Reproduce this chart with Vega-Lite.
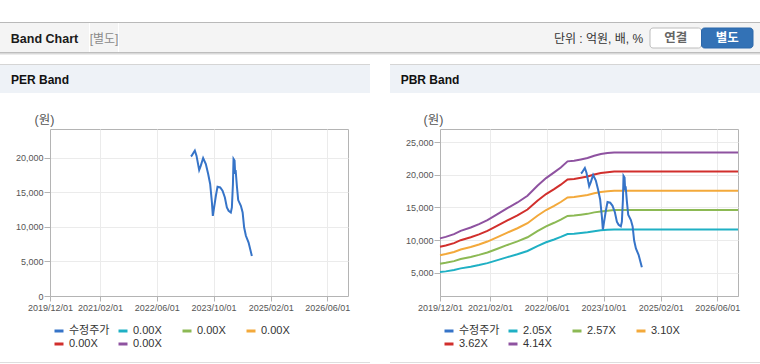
{
 "$schema": "https://vega.github.io/schema/vega-lite/v6.json",
 "padding": {"left": 0, "top": 22, "right": 0, "bottom": 0},
 "background": "#ffffff",
 "spacing": 9,
 "config": {
  "font": "'Liberation Sans', 'Noto Sans CJK KR', sans-serif",
  "view": {"stroke": null},
  "axis": {
   "labelFont": "'Liberation Sans', 'Noto Sans CJK KR', sans-serif",
   "labelFontSize": 9, "labelColor": "#555555",
   "domainColor": "#b4b4b4", "tickColor": "#b4b4b4", "gridColor": "#ebebeb",
   "titleFont": "'Liberation Sans', 'Noto Sans CJK KR', sans-serif",
   "titleFontWeight": "normal", "titleColor": "#555555", "titleFontSize": 12.5
  },
  "legend": {
   "labelFont": "'Liberation Sans', 'Noto Sans CJK KR', sans-serif",
   "labelFontSize": 11, "labelColor": "#333333"
  }
 },
 "datasets": {
  "price": [
   {"d": "2023-03-21", "s": "수정주가", "v": 20240},
   {"d": "2023-03-29", "s": "수정주가", "v": 20340},
   {"d": "2023-04-24", "s": "수정주가", "v": 21070},
   {"d": "2023-05-08", "s": "수정주가", "v": 20340},
   {"d": "2023-05-31", "s": "수정주가", "v": 18260},
   {"d": "2023-06-14", "s": "수정주가", "v": 18890},
   {"d": "2023-07-04", "s": "수정주가", "v": 20000},
   {"d": "2023-07-27", "s": "수정주가", "v": 19130},
   {"d": "2023-08-16", "s": "수정주가", "v": 17680},
   {"d": "2023-09-02", "s": "수정주가", "v": 16230},
   {"d": "2023-09-17", "s": "수정주가", "v": 13560},
   {"d": "2023-09-25", "s": "수정주가", "v": 11620},
   {"d": "2023-10-06", "s": "수정주가", "v": 12830},
   {"d": "2023-10-21", "s": "수정주가", "v": 14530},
   {"d": "2023-11-04", "s": "수정주가", "v": 15840},
   {"d": "2023-11-27", "s": "수정주가", "v": 15730},
   {"d": "2023-12-17", "s": "수정주가", "v": 15250},
   {"d": "2024-01-06", "s": "수정주가", "v": 14280},
   {"d": "2024-01-23", "s": "수정주가", "v": 12830},
   {"d": "2024-02-07", "s": "수정주가", "v": 12350},
   {"d": "2024-02-26", "s": "수정주가", "v": 12100},
   {"d": "2024-03-06", "s": "수정주가", "v": 12830},
   {"d": "2024-03-15", "s": "수정주가", "v": 16230},
   {"d": "2024-03-20", "s": "수정주가", "v": 19860},
   {"d": "2024-03-29", "s": "수정주가", "v": 19610},
   {"d": "2024-04-03", "s": "수정주가", "v": 17680},
   {"d": "2024-04-07", "s": "수정주가", "v": 18260},
   {"d": "2024-04-18", "s": "수정주가", "v": 15900},
   {"d": "2024-04-29", "s": "수정주가", "v": 13900},
   {"d": "2024-05-22", "s": "수정주가", "v": 13080},
   {"d": "2024-06-06", "s": "수정주가", "v": 12100},
   {"d": "2024-06-19", "s": "수정주가", "v": 9920},
   {"d": "2024-07-04", "s": "수정주가", "v": 8720},
   {"d": "2024-07-27", "s": "수정주가", "v": 7740},
   {"d": "2024-08-24", "s": "수정주가", "v": 5810}
  ],
  "band": [
   {"d": "2019-12-01", "s": "2.05X", "v": 5080}, {"d": "2020-01-19", "s": "2.05X", "v": 5190}, {"d": "2020-03-30", "s": "2.05X", "v": 5400}, {"d": "2020-05-26", "s": "2.05X", "v": 5650}, {"d": "2020-08-20", "s": "2.05X", "v": 5900}, {"d": "2020-10-30", "s": "2.05X", "v": 6160}, {"d": "2021-01-10", "s": "2.05X", "v": 6460}, {"d": "2021-04-06", "s": "2.05X", "v": 6920}, {"d": "2021-06-30", "s": "2.05X", "v": 7380}, {"d": "2021-09-24", "s": "2.05X", "v": 7810}, {"d": "2021-12-19", "s": "2.05X", "v": 8320}, {"d": "2022-03-14", "s": "2.05X", "v": 9080}, {"d": "2022-05-27", "s": "2.05X", "v": 9660}, {"d": "2022-08-04", "s": "2.05X", "v": 10090}, {"d": "2022-09-30", "s": "2.05X", "v": 10480}, {"d": "2022-11-27", "s": "2.05X", "v": 10930}, {"d": "2023-01-22", "s": "2.05X", "v": 10980}, {"d": "2023-03-21", "s": "2.05X", "v": 11080}, {"d": "2023-05-17", "s": "2.05X", "v": 11190}, {"d": "2023-07-13", "s": "2.05X", "v": 11360}, {"d": "2023-09-08", "s": "2.05X", "v": 11490}, {"d": "2023-11-04", "s": "2.05X", "v": 11570}, {"d": "2023-12-31", "s": "2.05X", "v": 11620}, {"d": "2026-11-25", "s": "2.05X", "v": 11620},
   {"d": "2019-12-01", "s": "2.57X", "v": 6370}, {"d": "2020-01-19", "s": "2.57X", "v": 6510}, {"d": "2020-03-30", "s": "2.57X", "v": 6760}, {"d": "2020-05-26", "s": "2.57X", "v": 7080}, {"d": "2020-08-20", "s": "2.57X", "v": 7400}, {"d": "2020-10-30", "s": "2.57X", "v": 7720}, {"d": "2021-01-10", "s": "2.57X", "v": 8100}, {"d": "2021-04-06", "s": "2.57X", "v": 8670}, {"d": "2021-06-30", "s": "2.57X", "v": 9250}, {"d": "2021-09-24", "s": "2.57X", "v": 9790}, {"d": "2021-12-19", "s": "2.57X", "v": 10430}, {"d": "2022-03-14", "s": "2.57X", "v": 11380}, {"d": "2022-05-27", "s": "2.57X", "v": 12110}, {"d": "2022-08-04", "s": "2.57X", "v": 12650}, {"d": "2022-09-30", "s": "2.57X", "v": 13130}, {"d": "2022-11-27", "s": "2.57X", "v": 13710}, {"d": "2023-01-22", "s": "2.57X", "v": 13770}, {"d": "2023-03-21", "s": "2.57X", "v": 13900}, {"d": "2023-05-17", "s": "2.57X", "v": 14020}, {"d": "2023-07-13", "s": "2.57X", "v": 14250}, {"d": "2023-09-08", "s": "2.57X", "v": 14400}, {"d": "2023-11-04", "s": "2.57X", "v": 14500}, {"d": "2023-12-31", "s": "2.57X", "v": 14600}, {"d": "2026-11-25", "s": "2.57X", "v": 14600},
   {"d": "2019-12-01", "s": "3.10X", "v": 7680}, {"d": "2020-01-19", "s": "3.10X", "v": 7860}, {"d": "2020-03-30", "s": "3.10X", "v": 8160}, {"d": "2020-05-26", "s": "3.10X", "v": 8540}, {"d": "2020-08-20", "s": "3.10X", "v": 8930}, {"d": "2020-10-30", "s": "3.10X", "v": 9310}, {"d": "2021-01-10", "s": "3.10X", "v": 9770}, {"d": "2021-04-06", "s": "3.10X", "v": 10460}, {"d": "2021-06-30", "s": "3.10X", "v": 11150}, {"d": "2021-09-24", "s": "3.10X", "v": 11810}, {"d": "2021-12-19", "s": "3.10X", "v": 12580}, {"d": "2022-03-14", "s": "3.10X", "v": 13730}, {"d": "2022-05-27", "s": "3.10X", "v": 14610}, {"d": "2022-08-04", "s": "3.10X", "v": 15260}, {"d": "2022-09-30", "s": "3.10X", "v": 15840}, {"d": "2022-11-27", "s": "3.10X", "v": 16530}, {"d": "2023-01-22", "s": "3.10X", "v": 16610}, {"d": "2023-03-21", "s": "3.10X", "v": 16760}, {"d": "2023-05-17", "s": "3.10X", "v": 16920}, {"d": "2023-07-13", "s": "3.10X", "v": 17180}, {"d": "2023-09-08", "s": "3.10X", "v": 17380}, {"d": "2023-11-04", "s": "3.10X", "v": 17490}, {"d": "2023-12-31", "s": "3.10X", "v": 17570}, {"d": "2026-11-25", "s": "3.10X", "v": 17570},
   {"d": "2019-12-01", "s": "3.62X", "v": 8970}, {"d": "2020-01-19", "s": "3.62X", "v": 9170}, {"d": "2020-03-30", "s": "3.62X", "v": 9530}, {"d": "2020-05-26", "s": "3.62X", "v": 9980}, {"d": "2020-08-20", "s": "3.62X", "v": 10430}, {"d": "2020-10-30", "s": "3.62X", "v": 10870}, {"d": "2021-01-10", "s": "3.62X", "v": 11410}, {"d": "2021-04-06", "s": "3.62X", "v": 12220}, {"d": "2021-06-30", "s": "3.62X", "v": 13020}, {"d": "2021-09-24", "s": "3.62X", "v": 13790}, {"d": "2021-12-19", "s": "3.62X", "v": 14690}, {"d": "2022-03-14", "s": "3.62X", "v": 16030}, {"d": "2022-05-27", "s": "3.62X", "v": 17060}, {"d": "2022-08-04", "s": "3.62X", "v": 17820}, {"d": "2022-09-30", "s": "3.62X", "v": 18500}, {"d": "2022-11-27", "s": "3.62X", "v": 19310}, {"d": "2023-01-22", "s": "3.62X", "v": 19390}, {"d": "2023-03-21", "s": "3.62X", "v": 19570}, {"d": "2023-05-17", "s": "3.62X", "v": 19750}, {"d": "2023-07-13", "s": "3.62X", "v": 20070}, {"d": "2023-09-08", "s": "3.62X", "v": 20290}, {"d": "2023-11-04", "s": "3.62X", "v": 20420}, {"d": "2023-12-31", "s": "3.62X", "v": 20520}, {"d": "2026-11-25", "s": "3.62X", "v": 20520},
   {"d": "2019-12-01", "s": "4.14X", "v": 10260}, {"d": "2020-01-19", "s": "4.14X", "v": 10490}, {"d": "2020-03-30", "s": "4.14X", "v": 10900}, {"d": "2020-05-26", "s": "4.14X", "v": 11410}, {"d": "2020-08-20", "s": "4.14X", "v": 11920}, {"d": "2020-10-30", "s": "4.14X", "v": 12440}, {"d": "2021-01-10", "s": "4.14X", "v": 13050}, {"d": "2021-04-06", "s": "4.14X", "v": 13970}, {"d": "2021-06-30", "s": "4.14X", "v": 14900}, {"d": "2021-09-24", "s": "4.14X", "v": 15770}, {"d": "2021-12-19", "s": "4.14X", "v": 16800}, {"d": "2022-03-14", "s": "4.14X", "v": 18330}, {"d": "2022-05-27", "s": "4.14X", "v": 19510}, {"d": "2022-08-04", "s": "4.14X", "v": 20390}, {"d": "2022-09-30", "s": "4.14X", "v": 21150}, {"d": "2022-11-27", "s": "4.14X", "v": 22080}, {"d": "2023-01-22", "s": "4.14X", "v": 22180}, {"d": "2023-03-21", "s": "4.14X", "v": 22380}, {"d": "2023-05-17", "s": "4.14X", "v": 22590}, {"d": "2023-07-13", "s": "4.14X", "v": 22950}, {"d": "2023-09-08", "s": "4.14X", "v": 23200}, {"d": "2023-11-04", "s": "4.14X", "v": 23360}, {"d": "2023-12-31", "s": "4.14X", "v": 23460}, {"d": "2026-11-25", "s": "4.14X", "v": 23460}
  ]
 },
 "vconcat": [
  {
   "spacing": 0,
   "vconcat": [
    {"width": 760, "height": 1, "view": {"fill": "#b9b9b9", "stroke": null}, "data": {"values": []}, "mark": "text", "encoding": {}},
    {
     "spacing": 0,
     "hconcat": [
      {"width": 89, "height": 29, "view": {"fill": "#f4f4f4", "stroke": null}, "data": {"values": [{"t": "Band Chart"}]}, "mark": {"type": "text", "fontSize": 12.5, "fontWeight": "bold", "color": "#1a1a1a", "dy": 1}, "encoding": {"text": {"field": "t"}}},
      {"width": 28, "height": 29, "view": {"fill": "#f4f4f4", "stroke": null}, "data": {"values": [{"t": "[별도]"}]}, "mark": {"type": "text", "fontSize": 12, "color": "#8a8a8a", "dy": 1}, "encoding": {"text": {"field": "t"}}},
      {"width": 434, "height": 29, "view": {"fill": "#f4f4f4", "stroke": null}, "data": {"values": []}, "mark": "text", "encoding": {}},
      {"width": 91, "height": 29, "view": {"fill": "#f4f4f4", "stroke": null}, "data": {"values": [{"t": "단위 : 억원, 배, %"}]}, "mark": {"type": "text", "fontSize": 12, "color": "#333333", "dy": 1}, "encoding": {"text": {"field": "t"}}},
      {
       "width": 118, "height": 29,
       "view": {"fill": "#f4f4f4", "stroke": null},
       "data": {"values": [{"b": "연결", "on": 0}, {"b": "별도", "on": 1}]},
       "encoding": {
        "x": {"field": "b", "type": "nominal", "sort": ["연결", "별도"], "scale": {"paddingInner": 0, "paddingOuter": 0.1456, "align": 0.4}, "axis": null},
        "y": {"datum": "btn", "type": "nominal", "scale": {"paddingInner": 0, "paddingOuter": 0.225, "align": 0.556}, "axis": null}
       },
       "layer": [
        {"mark": {"type": "rect", "cornerRadius": 3, "strokeWidth": 1},
         "encoding": {
          "fill": {"field": "b", "type": "nominal", "scale": {"domain": ["연결", "별도"], "range": ["#ffffff", "#3372b6"]}, "legend": null},
          "stroke": {"field": "b", "type": "nominal", "scale": {"domain": ["연결", "별도"], "range": ["#bcbcbc", "#2d68ab"]}, "legend": null}
         }},
        {"mark": {"type": "text", "fontWeight": "bold", "fontSize": 12.5},
         "encoding": {
          "text": {"field": "b"},
          "color": {"condition": {"test": "datum.on == 1", "value": "#ffffff"}, "value": "#666666"}
         }}
       ]
      }
     ]
    },
    {"width": 760, "height": 1, "view": {"fill": "#bdbdbd", "stroke": null}, "data": {"values": []}, "mark": "text", "encoding": {}},
    {"width": 760, "height": 1, "view": {"fill": "#d9d9d9", "stroke": null}, "data": {"values": []}, "mark": "text", "encoding": {}},
    {"width": 760, "height": 1, "view": {"fill": "#ececec", "stroke": null}, "data": {"values": []}, "mark": "text", "encoding": {}}
   ]
  },
  {
   "spacing": 20,
   "resolve": {"scale": {"color": "independent"}, "legend": {"color": "independent"}},
   "hconcat": [
    {
     "spacing": 18,
     "vconcat": [
      {
       "spacing": 0,
       "vconcat": [
        {"width": 370, "height": 1, "view": {"fill": "#d5d5d5", "stroke": null}, "data": {"values": []}, "mark": "text", "encoding": {}},
        {
         "spacing": 0,
         "hconcat": [
          {"width": 80, "height": 28, "view": {"fill": "#eef2f7", "stroke": null}, "data": {"values": [{"t": "PER Band"}]}, "mark": {"type": "text", "fontSize": 12, "fontWeight": "bold", "color": "#111111", "dy": 1}, "encoding": {"text": {"field": "t"}}},
          {"width": 290, "height": 28, "view": {"fill": "#eef2f7", "stroke": null}, "data": {"values": []}, "mark": "text", "encoding": {}}
         ]
        }
       ]
      },
      {
       "spacing": 49,
       "vconcat": [
        {
         "spacing": 0,
         "hconcat": [
          {"width": 1, "height": 1, "data": {"values": []}, "mark": "text", "encoding": {}},
          {
           "width": 298, "height": 167,
           "view": {"stroke": "#b4b4b4"},
           "title": {"text": "(원)", "color": "transparent", "anchor": "start", "frame": "group", "dx": -48, "fontSize": 1, "offset": 0},
           "data": {"name": "price"},
           "mark": {"type": "line", "strokeWidth": 2},
           "encoding": {
            "x": {"field": "d", "type": "temporal",
             "scale": {"type": "utc", "domain": [{"year": 2019, "month": 12, "date": 1, "utc": true}, {"year": 2026, "month": 11, "date": 25, "utc": true}]},
             "axis": {"title": null, "labelExpr": "utcFormat(datum.value, '%Y/%m/%d')", "labelFlush": false, "labelOverlap": false, "tickSize": 5, "labelPadding": 2,
              "values": [{"year": 2019, "month": 12, "date": 1, "utc": true}, {"year": 2021, "month": 2, "date": 1, "utc": true}, {"year": 2022, "month": 6, "date": 1, "utc": true}, {"year": 2023, "month": 10, "date": 1, "utc": true}, {"year": 2025, "month": 2, "date": 1, "utc": true}, {"year": 2026, "month": 6, "date": 1, "utc": true}]}},
            "y": {"field": "v", "type": "quantitative",
             "scale": {"domain": [0, 24200], "nice": false, "zero": false},
             "axis": {"values": [0, 5000, 10000, 15000, 20000], "format": ",d", "tickSize": 6, "labelPadding": 1,
              "title": "(원)", "titleAngle": 0, "titleX": -16, "titleY": -10, "titleAlign": "left", "titleBaseline": "middle"}},
            "color": {"field": "s", "type": "nominal",
             "scale": {"domain": ["수정주가", "0.00X1", "0.00X2", "0.00X3", "0.00X4", "0.00X5"], "range": ["#3674c8", "#1fb0c4", "#8cb954", "#f3a93b", "#d12f2c", "#8e52a0"]},
             "legend": {"title": null, "orient": "none", "legendX": 53, "legendY": 261, "direction": "horizontal", "columns": 4, "gridAlign": "all", "symbolType": "stroke", "symbolSize": 81, "symbolStrokeWidth": 3, "labelOffset": 4, "columnPadding": 2, "rowPadding": 1, "labelExpr": "slice(datum.label, 0, 5)"}}
           }
          }
         ]
        },
        {"width": 370, "height": 1, "view": {"fill": "#dedede", "stroke": null}, "data": {"values": []}, "mark": "text", "encoding": {}}
       ]
      }
     ]
    },
    {
     "spacing": 18,
     "vconcat": [
      {
       "spacing": 0,
       "vconcat": [
        {"width": 370, "height": 1, "view": {"fill": "#d5d5d5", "stroke": null}, "data": {"values": []}, "mark": "text", "encoding": {}},
        {
         "spacing": 0,
         "hconcat": [
          {"width": 80, "height": 28, "view": {"fill": "#eef2f7", "stroke": null}, "data": {"values": [{"t": "PBR Band"}]}, "mark": {"type": "text", "fontSize": 12, "fontWeight": "bold", "color": "#111111", "dy": 1}, "encoding": {"text": {"field": "t"}}},
          {"width": 290, "height": 28, "view": {"fill": "#eef2f7", "stroke": null}, "data": {"values": []}, "mark": "text", "encoding": {}}
         ]
        }
       ]
      },
      {
       "spacing": 49,
       "vconcat": [
        {
         "spacing": 0,
         "hconcat": [
          {"width": 1, "height": 1, "data": {"values": []}, "mark": "text", "encoding": {}},
          {
           "width": 298, "height": 167,
           "view": {"stroke": "#b4b4b4"},
           "title": {"text": "(원)", "color": "transparent", "anchor": "start", "frame": "group", "dx": -48, "fontSize": 1, "offset": 0},
           "encoding": {
            "x": {"field": "d", "type": "temporal",
             "scale": {"type": "utc", "domain": [{"year": 2019, "month": 12, "date": 1, "utc": true}, {"year": 2026, "month": 11, "date": 25, "utc": true}]},
             "axis": {"title": null, "labelExpr": "utcFormat(datum.value, '%Y/%m/%d')", "labelFlush": false, "labelOverlap": false, "tickSize": 5, "labelPadding": 2,
              "values": [{"year": 2019, "month": 12, "date": 1, "utc": true}, {"year": 2021, "month": 2, "date": 1, "utc": true}, {"year": 2022, "month": 6, "date": 1, "utc": true}, {"year": 2023, "month": 10, "date": 1, "utc": true}, {"year": 2025, "month": 2, "date": 1, "utc": true}, {"year": 2026, "month": 6, "date": 1, "utc": true}]}},
            "y": {"field": "v", "type": "quantitative",
             "scale": {"domain": [1410, 27050], "nice": false, "zero": false},
             "axis": {"values": [5000, 10000, 15000, 20000, 25000], "format": ",d", "tickSize": 6, "labelPadding": 1,
              "title": "(원)", "titleAngle": 0, "titleX": -17, "titleY": -10, "titleAlign": "left", "titleBaseline": "middle"}},
            "color": {"field": "s", "type": "nominal",
             "scale": {"domain": ["수정주가", "2.05X", "2.57X", "3.10X", "3.62X", "4.14X"], "range": ["#3674c8", "#1fb0c4", "#8cb954", "#f3a93b", "#d12f2c", "#8e52a0"]},
             "legend": {"title": null, "orient": "none", "legendX": 53, "legendY": 261, "direction": "horizontal", "columns": 4, "gridAlign": "all", "symbolType": "stroke", "symbolSize": 81, "symbolStrokeWidth": 3, "labelOffset": 4, "columnPadding": 2, "rowPadding": 1}}
           },
           "layer": [
            {"data": {"name": "band"}, "mark": {"type": "line", "strokeWidth": 2}},
            {"data": {"name": "price"}, "mark": {"type": "line", "strokeWidth": 2}}
           ]
          }
         ]
        },
        {"width": 370, "height": 1, "view": {"fill": "#dedede", "stroke": null}, "data": {"values": []}, "mark": "text", "encoding": {}}
       ]
      }
     ]
    }
   ]
  }
 ]
}
